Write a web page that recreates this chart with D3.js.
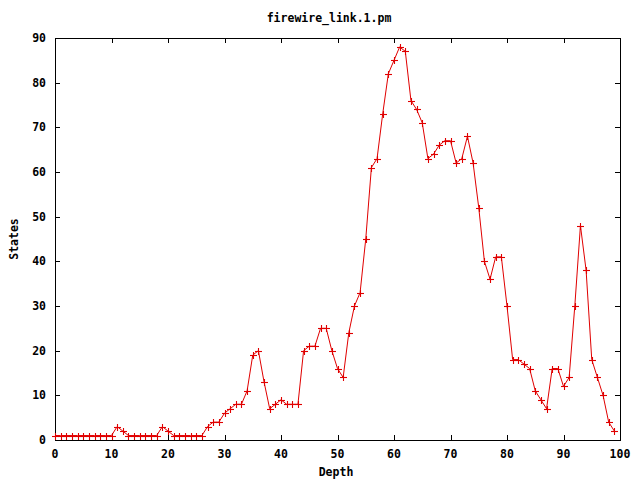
<!DOCTYPE html>
<html>
<head>
<meta charset="utf-8">
<script src="https://cdn.jsdelivr.net/npm/d3@7"></script>
<style>
  html, body { margin: 0; padding: 0; background: #fff; }
  svg text { font-family: "DejaVu Sans Mono", "Liberation Mono", monospace; font-weight: bold; font-size: 11.5px; fill: #000; }
</style>
</head>
<body>
<svg id="chart" width="640" height="480"></svg>
<script>
const title = "firewire_link.1.pm";
const xLabel = "Depth";
const yLabel = "States";
const depths = d3.range(0, 100);
const states = [
  1, 1, 1, 1, 1, 1, 1, 1, 1, 1,
  1, 3, 2, 1, 1, 1, 1, 1, 1, 3,
  2, 1, 1, 1, 1, 1, 1, 3, 4, 4,
  6, 7, 8, 8, 11, 19, 20, 13, 7, 8,
  9, 8, 8, 8, 20, 21, 21, 25, 25, 20,
  16, 14, 24, 30, 33, 45, 61, 63, 73, 82,
  85, 88, 87, 76, 74, 71, 63, 64, 66, 67,
  67, 62, 63, 68, 62, 52, 40, 36, 41, 41,
  30, 18, 18, 17, 16, 11, 9, 7, 16, 16,
  12, 14, 30, 48, 38, 18, 14, 10, 4, 2
];
const xTicks = [0, 10, 20, 30, 40, 50, 60, 70, 80, 90, 100];
const yTicks = [0, 10, 20, 30, 40, 50, 60, 70, 80, 90];

(function () {
const svg = d3.select("#chart");
const pl = 55, pr = 620, pt = 38, pb = 440;
const x = d3.scaleLinear().domain([0, 100]).range([pl, pr]);
const y = d3.scaleLinear().domain([0, 90]).range([pb, pt]);
const tl = 5;

// ticks (inward, mirrored)
const g = svg.append("g").attr("stroke", "#000").attr("stroke-width", 1).attr("shape-rendering", "crispEdges");
xTicks.forEach(t => {
  const px = Math.round(x(t)) + 0.5;
  g.append("line").attr("x1", px).attr("x2", px).attr("y1", pb).attr("y2", pb - tl);
  g.append("line").attr("x1", px).attr("x2", px).attr("y1", pt).attr("y2", pt + tl);
});
yTicks.forEach(t => {
  const py = Math.round(y(t)) + 0.5;
  g.append("line").attr("x1", pl).attr("x2", pl + tl).attr("y1", py).attr("y2", py);
  g.append("line").attr("x1", pr).attr("x2", pr - tl).attr("y1", py).attr("y2", py);
});
// border
svg.append("rect").attr("x", pl + 0.5).attr("y", pt + 0.5)
  .attr("width", pr - pl).attr("height", pb - pt)
  .attr("fill", "none").attr("stroke", "#000").attr("stroke-width", 1).attr("shape-rendering", "crispEdges");

// tick labels
xTicks.forEach(t => {
  svg.append("text").attr("x", x(t)).attr("y", pb + 18).attr("text-anchor", "middle").text(t);
});
yTicks.forEach(t => {
  svg.append("text").attr("x", pl - 9).attr("y", y(t) + 4).attr("text-anchor", "end").text(t);
});

// titles
svg.append("text").attr("x", 329).attr("y", 22).attr("text-anchor", "middle").text(title);
svg.append("text").attr("x", 336).attr("y", 476).attr("text-anchor", "middle").text(xLabel);
svg.append("text").attr("transform", "translate(18,239) rotate(-90)").attr("text-anchor", "middle").text(yLabel);

// data line
const data = depths.map((d, i) => [d, states[i]]);
const line = d3.line().x(d => x(d[0])).y(d => y(d[1]));
svg.append("path").datum(data).attr("d", line)
  .attr("fill", "none").attr("stroke", "#e00000").attr("stroke-width", 1);

// points "+"
const s = 3.5;
const pts = svg.append("g").attr("stroke", "#e00000").attr("stroke-width", 1.1);
data.forEach(d => {
  const px = Math.round(x(d[0])) + 0.5, py = Math.round(y(d[1])) + 0.5;
  pts.append("line").attr("x1", px - s).attr("x2", px + s).attr("y1", py).attr("y2", py);
  pts.append("line").attr("x1", px).attr("x2", px).attr("y1", py - s).attr("y2", py + s);
});
})();
</script>
</body>
</html>
